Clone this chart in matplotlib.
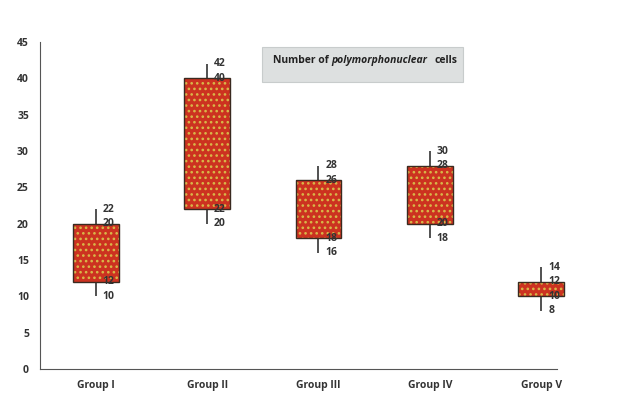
import matplotlib.pyplot as plt
from matplotlib.patches import Rectangle

# data
groups = ['Group I', 'Group II', 'Group III', 'Group IV', 'Group V']
low = [10, 20, 16, 18, 8]
box_bottom = [12, 22, 18, 20, 10]
box_top = [20, 40, 26, 28, 12]
high = [22, 42, 28, 30, 14]

plt.rcParams['font.family'] = ['Open Sans', 'DejaVu Sans']
plt.rcParams['hatch.linewidth'] = 1.1

fig = plt.figure(figsize=(6.26, 4.17), dpi=100)
ax = fig.add_axes([40 / 626, 48 / 417, 557 / 626, 327 / 417])

x = list(range(len(groups)))
heights = [t - b for t, b in zip(box_top, box_bottom)]

# whiskers
ax.vlines(x, low, high, color='#333333', lw=1.2, zorder=1)
# patterned fill, then outline
ax.bar(x, heights, bottom=box_bottom, width=0.41, color='#cc3220',
       edgecolor='#d8b848', hatch='...', linewidth=0, zorder=2)
ax.bar(x, heights, bottom=box_bottom, width=0.41, fill=False,
       edgecolor='#3a2a20', linewidth=1.0, zorder=3)

# value labels
for i in x:
    for v in (low[i], box_bottom[i], box_top[i], high[i]):
        ax.annotate(str(v), (i, v), xytext=(5, 0), textcoords='offset points',
                    fontsize=7.5, fontweight='bold', color='#333333',
                    va='center', ha='left', zorder=4)

ax.set_xlim(-0.5, 4.5)
ax.set_ylim(0, 45)
ax.set_yticks(range(0, 46, 5))
ax.set_xticks(x)
ax.set_xticklabels(groups)
ax.tick_params(length=0, labelsize=7.5, colors='#333333', pad=8)
for lab in ax.get_xticklabels() + ax.get_yticklabels():
    lab.set_fontweight('bold')
ax.spines['top'].set_visible(False)
ax.spines['right'].set_visible(False)
ax.spines['left'].set_color('#555555')
ax.spines['bottom'].set_color('#555555')
ax.spines['bottom'].set_bounds(-0.5, 4.14)

# title box
fig.patches.append(Rectangle((262 / 626, 1 - 82 / 417), 201 / 626, 35 / 417,
                             transform=fig.transFigure, facecolor='#dde0e0',
                             edgecolor='#c8cccc', lw=0.8, zorder=0))
ty = 1 - 63 / 417
t1 = fig.text(273 / 626, ty, 'Number of ', fontsize=7.5,
              fontweight='bold', color='#222222')
fig.canvas.draw()
bb = t1.get_window_extent()
t2 = fig.text(bb.x1 / fig.bbox.width, ty, 'polymorphonuclear', fontsize=7.5,
              fontweight='bold', style='italic', color='#222222')
fig.canvas.draw()
bb2 = t2.get_window_extent()
fig.text(bb2.x1 / fig.bbox.width + 7 / 626, ty, 'cells', fontsize=7.5,
         fontweight='bold', color='#222222')

fig.savefig('out.png', dpi=100)
